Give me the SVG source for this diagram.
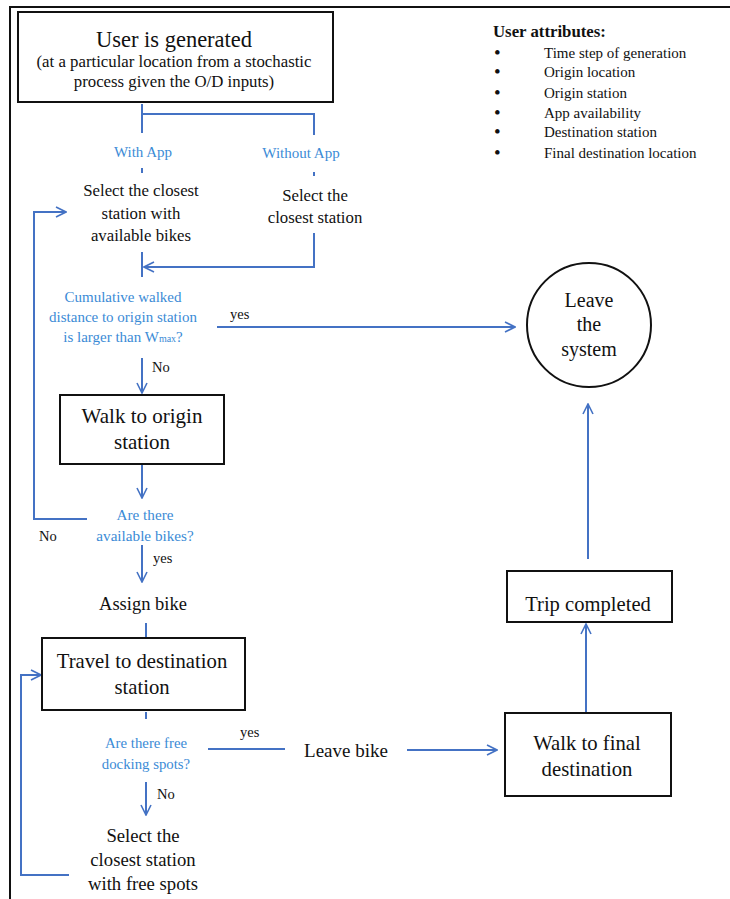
<svg xmlns="http://www.w3.org/2000/svg" width="730" height="899" viewBox="0 0 730 899">
<defs>
<marker id="arr" viewBox="0 0 12 12" refX="11" refY="6" markerWidth="12" markerHeight="12" markerUnits="userSpaceOnUse" orient="auto">
<path d="M1,1 L11,6 L1,11" fill="none" stroke="#4472C4" stroke-width="1.6"/>
</marker>
<style>
text{font-family:"Liberation Serif","Times New Roman",serif;fill:#111}
.c{text-anchor:middle}
.b{fill:#3b8bd6}
.box{fill:#fff;stroke:#111;stroke-width:2}
.ln{fill:none;stroke:#4472C4;stroke-width:2}
.ar{fill:none;stroke:#4472C4;stroke-width:2;marker-end:url(#arr)}
</style>
</defs>
<rect width="730" height="899" fill="#fff"/>
<path d="M10,899 V7 H730" fill="none" stroke="#111" stroke-width="2"/>

<g id="connectors">
<path class="ln" d="M142,104 V133 M142,114 H314 V135"/>
<path class="ln" d="M142,168 V173 M314,172 V176"/>
<path class="ar" d="M314,233 V267 H144"/>
<path class="ln" d="M142,252 V277"/>
<path class="ar" d="M87,519 H34 V212 H66"/>
<path class="ar" d="M217,327 H515"/>
<path class="ar" d="M142,358 V393"/>
<path class="ar" d="M142,465 V498"/>
<path class="ar" d="M142,545 V582"/>
<path class="ln" d="M146,623 V637"/>
<path class="ln" d="M146,712 V719"/>
<path class="ln" d="M208,749 H285"/>
<path class="ar" d="M407,750 H497"/>
<path class="ar" d="M146,782 V815"/>
<path class="ar" d="M69,875 H21 V675 H41"/>
<path class="ar" d="M586,713 V624"/>
<path class="ar" d="M588,559 V404"/>
<text x="230" y="319" font-size="14.5">yes</text>
<text x="152" y="372" font-size="14.5">No</text>
<text x="39" y="541" font-size="14.5">No</text>
<text x="153" y="563" font-size="14.5">yes</text>
<text x="240" y="737" font-size="14.5">yes</text>
<text x="157" y="799" font-size="14.5">No</text>
</g>

<g id="user-generated">
<rect class="box" x="18" y="12" width="315" height="90"/>
<text class="c" x="174" y="47" font-size="22.5">User is generated</text>
<text class="c" x="174" y="67" font-size="16.8">(at a particular location from a stochastic</text>
<text class="c" x="174" y="87" font-size="16.8">process given the O/D inputs)</text>
</g>

<g id="attributes">
<text x="493" y="37" font-size="16.8" font-weight="bold">User attributes:</text>
<g font-size="15">
<text x="494" y="59" font-size="19">•</text><text x="544" y="58">Time step of generation</text>
<text x="494" y="78" font-size="19">•</text><text x="544" y="77">Origin location</text>
<text x="494" y="99" font-size="19">•</text><text x="544" y="98">Origin station</text>
<text x="494" y="119" font-size="19">•</text><text x="544" y="118">App availability</text>
<text x="494" y="138" font-size="19">•</text><text x="544" y="137">Destination station</text>
<text x="494" y="159" font-size="19">•</text><text x="544" y="158">Final destination location</text>
</g>
</g>

<g id="with-app">
<text class="c b" x="143" y="157" font-size="15">With App</text>
</g>
<g id="without-app">
<text class="c b" x="301" y="158" font-size="15">Without App</text>
</g>

<g id="select-with-bikes">
<text class="c" x="141" y="196" font-size="16.8">Select the closest</text>
<text class="c" x="141" y="219" font-size="16.8">station with</text>
<text class="c" x="141" y="241" font-size="16.8">available bikes</text>
</g>

<g id="select-closest">
<text class="c" x="315" y="201" font-size="16.8">Select the</text>
<text class="c" x="315" y="223" font-size="16.8">closest station</text>
</g>

<g id="cumulative">
<text class="c b" x="123" y="302" font-size="15">Cumulative walked</text>
<text class="c b" x="123" y="322" font-size="15">distance to origin station</text>
<text class="c b" x="123" y="342" font-size="15">is larger than W<tspan font-size="10">max</tspan>?</text>
</g>

<g id="leave-system">
<circle cx="589" cy="325" r="62" fill="#fff" stroke="#111" stroke-width="2"/>
<text class="c" x="589" y="307" font-size="20">Leave</text>
<text class="c" x="589" y="331" font-size="20">the</text>
<text class="c" x="589" y="356" font-size="20">system</text>
</g>

<g id="walk-origin">
<rect class="box" x="60" y="395" width="164" height="69"/>
<text class="c" x="142" y="423" font-size="21">Walk to origin</text>
<text class="c" x="142" y="449" font-size="21">station</text>
</g>

<g id="available-bikes">
<text class="c b" x="145" y="520" font-size="15.2">Are there</text>
<text class="c b" x="145" y="541" font-size="15.2">available bikes?</text>
</g>

<g id="assign-bike">
<text class="c" x="143" y="610" font-size="18.5">Assign bike</text>
</g>

<g id="travel">
<rect class="box" x="42" y="638" width="203" height="72"/>
<text class="c" x="142" y="668" font-size="20.7">Travel to destination</text>
<text class="c" x="142" y="694" font-size="20.7">station</text>
</g>

<g id="free-docks">
<text class="c b" x="146" y="748" font-size="14.8">Are there free</text>
<text class="c b" x="146" y="769" font-size="14.8">docking spots?</text>
</g>

<g id="leave-bike">
<text class="c" x="346" y="757" font-size="19">Leave bike</text>
</g>

<g id="select-free">
<text class="c" x="143" y="842" font-size="18.7">Select the</text>
<text class="c" x="143" y="866" font-size="18.7">closest station</text>
<text class="c" x="143" y="890" font-size="18.7">with free spots</text>
</g>

<g id="walk-final">
<rect class="box" x="505" y="713" width="166" height="83"/>
<text class="c" x="587" y="750" font-size="20.7">Walk to final</text>
<text class="c" x="587" y="776" font-size="20.7">destination</text>
</g>

<g id="trip-completed">
<rect class="box" x="507" y="571" width="165" height="51"/>
<text class="c" x="588" y="611" font-size="20.6">Trip completed</text>
</g>
</svg>
